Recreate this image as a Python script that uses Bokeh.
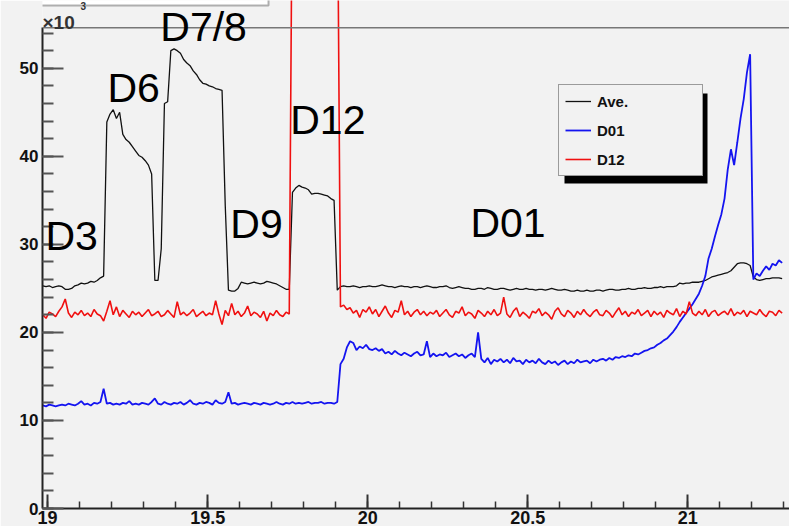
import numpy as np
from bokeh.plotting import figure
from bokeh.models import (Range1d, Span, Label, Legend, LegendItem, BoxAnnotation,
                          SingleIntervalTicker, CustomJSTickFormatter)
from bokeh.embed import file_html
from bokeh.resources import INLINE

# ---------------- data (values in units of 10^3) ----------------
x_start = 18.985
x_step = 0.01

ave = [25.3, 25.2, 25.3, 25.1, 25.2, 25.3, 25.2, 24.9, 24.9, 25.0,
       25.3, 25.4, 25.6, 25.5, 25.6, 25.8, 25.7, 25.9, 26.2, 26.4,
       43.9, 44.8, 45.3, 44.3, 45.0, 42.5, 41.9, 41.6, 41.1, 40.6,
       40.1, 39.9, 39.5, 39.0, 38.0, 25.9, 25.9, 29.5, 46.0, 46.2,
       52.0, 52.2, 52.0, 51.7, 51.0, 50.6, 50.3, 49.7, 49.3, 48.7,
       48.3, 48.2, 48.0, 47.9, 47.7, 47.6, 47.5, 34.4, 24.8, 24.7,
       24.7, 25.0, 25.7, 25.6, 25.5, 25.6, 25.7, 25.6, 25.5, 25.6,
       25.8, 25.7, 25.6, 25.5, 25.3, 25.1, 24.9, 24.9, 35.9, 36.4,
       36.7, 36.5, 36.4, 36.2, 35.7, 35.8, 35.8, 35.7, 35.6, 35.5,
       35.2, 35.0, 24.8, 25.2,
       25.3, 25.2, 25.2, 25.3, 25.2, 25.1, 25.2, 25.2, 25.3, 25.2, 25.2, 25.3,
       25.4, 25.3, 25.2, 25.2, 25.1, 25.2, 25.3, 25.2, 25.2, 25.1, 25.2, 25.2,
       25.1, 25.2, 25.3, 25.2, 25.1, 25.1, 25.2, 25.2, 25.3, 25.1, 25.0, 25.1, 25.2, 25.1, 25.0, 25.0,
       24.9, 24.9, 25.0, 25.0, 24.9, 25.1, 25.0, 24.9, 24.9, 25.0, 25.0, 24.9, 24.8, 24.9, 25.0, 24.9, 24.9, 25.0, 24.9, 24.9,
       24.8, 24.9, 24.9, 24.8, 24.9, 25.0, 24.9, 24.8, 24.8, 24.9, 24.8, 24.7, 24.7, 24.8, 24.7, 24.7, 24.8, 24.7, 24.7, 24.8,
       24.8, 24.7, 24.8, 24.9, 24.9, 24.8, 24.8, 24.9, 24.9, 25.0, 24.9, 24.9, 25.0, 25.0, 25.1, 25.0, 25.0, 25.1, 25.1, 25.2,
       25.1, 25.2, 25.2, 25.2, 25.3, 25.6, 25.5, 25.6, 25.6, 25.7, 25.7, 25.7, 25.8, 25.9, 26.1, 26.3, 26.4, 26.5, 26.6, 26.7,
       26.8, 27.0, 27.4, 27.8, 27.9, 27.9, 27.8, 27.6, 26.3, 26.0, 25.9, 26.0, 26.1, 26.1, 26.2, 26.2, 26.2, 26.1]

d01 = [11.7, 11.6, 11.8, 11.7, 11.6, 11.7, 11.8, 11.7, 11.9, 11.8,
       11.7, 11.9, 12.2, 11.8, 11.9, 11.7, 12.0, 11.9, 12.1, 13.6,
       11.9, 12.0, 11.8, 11.9, 11.8, 12.0, 11.9, 12.2, 11.8, 11.9,
       11.8, 12.0, 11.9, 11.8, 12.1, 12.5, 11.9, 11.8, 12.1, 11.9,
       11.8, 12.0, 11.9, 12.1, 11.8, 12.0, 12.3, 11.9, 11.8, 12.0,
       11.9, 12.1, 12.0, 11.8, 12.3, 12.0, 11.9, 12.1, 13.2, 11.9,
       12.0, 11.8, 11.9, 12.0, 11.9, 11.8, 12.0, 11.9, 11.8, 12.0,
       11.9, 11.8, 11.9, 12.1, 11.9, 11.8, 12.0, 11.9, 12.1, 11.9,
       12.0, 11.9, 12.0, 12.1, 11.9, 12.0, 12.0, 12.1, 11.9, 12.0,
       12.0, 11.9, 12.1,
       16.4, 17.0, 18.3, 19.0, 18.8, 18.0, 18.4, 18.2, 18.6, 18.1,
       18.0, 18.2, 17.9, 18.1, 17.6, 17.8, 17.5, 17.9, 17.6, 17.4,
       17.7, 17.5, 17.3, 17.6, 17.8, 17.4, 17.5, 19.0, 17.2, 17.6,
       17.3, 17.5, 17.4, 17.7, 17.2, 17.4, 17.6, 17.3, 17.5, 17.1,
       17.4, 17.6, 17.2, 20.0, 17.0, 16.6, 17.1, 16.4, 16.9, 16.7,
       17.0, 16.6, 16.9, 16.5, 17.1, 16.7, 16.8, 16.4, 16.9, 16.6,
       16.8, 16.5, 17.0, 16.6, 16.4, 16.8, 16.5, 16.7, 16.3, 16.6,
       16.8, 16.4, 16.7, 16.5, 16.9, 16.6, 16.7, 16.8, 16.5, 16.9,
       16.7, 16.9, 17.0, 16.8, 17.1, 16.9, 17.2, 17.1, 17.3, 17.2,
       17.4, 17.3, 17.6, 17.5, 17.7, 17.9, 18.0, 18.2, 18.3, 18.6,
       18.8, 19.1, 19.3, 19.7, 20.1, 20.6, 21.2, 21.7, 22.2, 22.7,
       23.2, 23.8, 24.4, 25.3, 26.4, 28.4, 29.5, 30.9, 32.2, 33.4,
       35.2, 38.5, 40.8, 39.0, 41.6, 44.3, 46.5, 49.5, 51.6, 26.0,
       26.7, 26.4, 27.0, 27.5, 27.1, 27.8, 27.6, 28.2, 27.9]

d12 = [22.0, 21.6, 22.3, 22.1, 21.8, 22.4, 22.9, 23.8, 22.2, 21.7,
       22.3, 22.0, 22.5, 21.9, 22.2, 21.8, 22.6, 22.1, 21.9, 21.3,
       22.4, 23.6, 22.0, 22.9, 21.8, 22.5, 22.1, 21.7, 22.4, 22.0,
       22.3, 21.8, 22.2, 22.6, 21.9, 22.1, 22.4, 21.8, 22.0, 22.5,
       22.1, 21.7, 23.5, 22.0, 22.3, 21.9, 22.2, 22.6, 21.8, 22.1,
       22.4, 21.9, 22.2, 22.0, 23.6, 22.1, 20.9, 22.5, 21.9, 23.3,
       22.0, 22.4, 21.8, 22.2, 23.0, 21.9, 22.3, 22.1, 21.7, 22.4,
       21.3, 22.2, 21.9, 22.5, 22.0, 21.8, 22.3, 22.1,
       75.0, 75.0, 75.0, 75.0, 75.0, 75.0, 75.0, 75.0, 75.0, 75.0,
       75.0, 75.0, 75.0, 75.0, 75.0,
       22.9, 23.1, 22.6, 22.8, 22.2, 22.5, 21.7, 22.6, 22.3, 22.9,
       22.1, 22.6, 21.8, 22.4, 23.0, 22.2, 21.7, 22.5, 22.3, 23.6,
       22.0, 22.4, 21.8, 22.3, 22.6, 22.0, 22.4, 21.9, 22.3, 22.1,
       22.5, 21.8, 22.2, 22.6, 22.0, 21.7, 22.4, 22.2, 22.9, 21.9,
       22.3, 22.1, 21.6, 22.5, 22.2, 21.8, 22.4, 22.0, 22.6, 21.9,
       22.2, 24.0, 22.1, 21.7, 22.4, 22.8, 21.8, 22.3, 22.0, 21.6,
       22.4, 22.2, 22.7, 21.9, 22.3, 22.0, 21.5, 22.4, 22.8, 22.1,
       21.8, 22.5, 22.2, 21.7, 22.4, 22.0, 22.6, 22.1, 21.8, 22.3,
       22.6, 22.0, 21.9, 22.5, 22.2, 21.7, 22.3, 22.8, 22.0, 22.4,
       21.8, 22.3, 22.1, 22.6, 21.9, 22.2, 22.5, 21.8, 22.4, 22.0,
       22.3, 21.7, 22.5, 22.2, 22.0, 22.7, 21.8, 22.4, 22.1, 23.5,
       22.2, 21.9, 22.4, 22.0, 22.6, 21.8, 22.3, 22.5, 21.9, 22.2,
       22.4, 22.0, 22.7, 21.9, 22.3, 22.1, 22.5, 21.8, 22.4, 22.2,
       22.0, 22.6, 22.1, 21.8, 22.4, 22.3, 21.9, 22.5, 22.2]

series_names = ["Ave.", "D01", "D12"]
y_ticks_top = 54.6

# region annotations: (text, x, y)
region_labels = ["D3", "D6", "D7/8", "D9", "D12", "D01"]
region_x = [18.993, 19.187, 19.352, 19.571, 19.758, 20.321]
region_y = [29.2, 46.1, 53.0, 30.6, 42.4, 30.7]

x = [round(x_start + x_step * i, 3) for i in range(len(ave))]

BG = "#f2f2f2"
FONT = "Liberation Sans"

p = figure(width=789, height=526, output_backend="svg", toolbar_location=None,
           x_range=Range1d(18.984, 21.318), y_range=Range1d(0, 57.7),
           min_border_left=42, min_border_right=0, min_border_top=0,
           background_fill_color=BG, border_fill_color=BG)
p.outline_line_color = None
p.grid.visible = False

r_ave = p.line(x, ave, line_color="#111111", line_width=1.3)
r_d01 = p.line(x, d01, line_color="#1414f0", line_width=1.8)
r_d12 = p.line(x, d12, line_color="#f01010", line_width=1.6)

# axes
xa = p.xaxis[0]
xa.ticker = SingleIntervalTicker(interval=0.5, num_minor_ticks=5)
xa.formatter = CustomJSTickFormatter(code="return String(Math.round(tick*10)/10)")
xa.major_tick_in = 14
xa.major_tick_out = 0
xa.minor_tick_in = 7
xa.minor_tick_out = 0
xa.axis_line_width = 2
xa.axis_line_color = "#222222"
xa.major_tick_line_color = "#333333"
xa.major_tick_line_width = 2
xa.minor_tick_line_color = "#333333"
xa.minor_tick_line_width = 1.5
xa.major_label_text_font = FONT
xa.major_label_text_font_style = "bold"
xa.major_label_text_font_size = "18px"
xa.major_label_text_color = "#111111"
xa.major_label_standoff = 2

ya = p.yaxis[0]
ya.ticker = SingleIntervalTicker(interval=10, num_minor_ticks=5)
ya.bounds = (0, y_ticks_top)
ya.major_tick_in = 21
ya.major_tick_out = 0
ya.minor_tick_in = 11
ya.minor_tick_out = 0
ya.axis_line_width = 2
ya.axis_line_color = "#222222"
ya.major_tick_line_color = "#555555"
ya.major_tick_line_width = 2
ya.minor_tick_line_color = "#555555"
ya.minor_tick_line_width = 2
ya.major_label_text_font = FONT
ya.major_label_text_font_style = "bold"
ya.major_label_text_font_size = "17px"
ya.major_label_text_color = "#111111"
ya.major_label_standoff = 4

# top frame line
p.add_layout(Span(location=y_ticks_top, dimension="width", line_color="#777777", line_width=1.5))

# truncated title box at the top-left
p.add_layout(BoxAnnotation(left=-50, right=226, bottom=57.13, top=70,
                           left_units="screen", right_units="screen",
                           fill_color="white", fill_alpha=1.0,
                           line_color="black", line_width=2))

# exponent label
p.add_layout(Label(x=0, y=54.8, x_units="screen", text="×10", y_offset=4,
                   text_font=FONT, text_font_style="bold", text_font_size="19px",
                   text_color="#333333", text_baseline="alphabetic"))
p.add_layout(Label(x=38, y=56.7, x_units="screen", text="3", y_offset=3,
                   text_font=FONT, text_font_style="bold", text_font_size="10px",
                   text_color="#333333", text_baseline="alphabetic"))

# region labels
for t, lx, ly in zip(region_labels, region_x, region_y):
    p.add_layout(Label(x=lx, y=ly, text=t, text_font=FONT, text_font_size="41px", y_offset=15,
                       text_color="#000000", text_baseline="alphabetic", text_align="left"))

# legend shadow + legend
LX, LY = 516, 332
p.add_layout(BoxAnnotation(left=LX + 6, right=LX + 6 + 143, bottom=LY - 7, top=LY - 7 + 90,
                           left_units="screen", right_units="screen",
                           top_units="screen", bottom_units="screen",
                           fill_color="black", fill_alpha=1.0, line_color=None))
legend = Legend(items=[LegendItem(label=series_names[0], renderers=[r_ave]),
                       LegendItem(label=series_names[1], renderers=[r_d01]),
                       LegendItem(label=series_names[2], renderers=[r_d12])],
                location=(LX, LY), padding=6, spacing=9, margin=0,
                glyph_width=26, glyph_height=20, label_height=20, label_width=99,
                label_standoff=6,
                label_text_font=FONT, label_text_font_style="bold",
                label_text_font_size="15px", label_text_color="#111111",
                border_line_color="#444444", border_line_width=1.5,
                background_fill_color=BG, background_fill_alpha=1.0)
p.add_layout(legend)

open("out.html", "w").write(file_html(p, INLINE))
